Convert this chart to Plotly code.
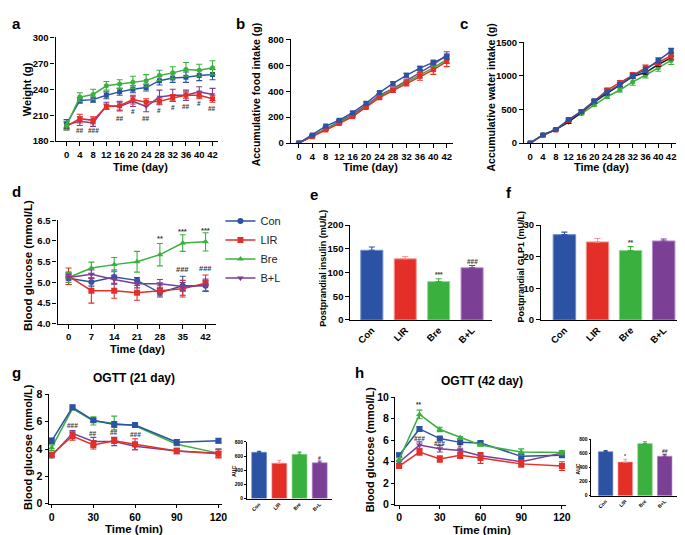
import plotly.graph_objects as go

W, H = 685, 535
FONT = "Liberation Sans, Arial, sans-serif"
BLUE, RED, GREEN, PURPLE, BLACK = "#2C52A3", "#E42F28", "#3AB03E", "#7C3F96", "#222222"
BAR_LINE = ["#6F8CD0", "#F49A95", "#8FDB8F", "#B58BCB"]

groups = ["Con", "LIR", "Bre", "B+L"]

# ---------- a: body weight ----------
days_a = [0, 4, 8, 12, 16, 20, 24, 28, 32, 36, 40, 42]
wt_con = [200, 227, 228, 233, 237, 240, 242, 250, 253, 254, 256, 257]
wt_lir = [197, 206, 204, 220, 221, 228, 225, 226, 230, 233, 233, 229]
wt_bre = [198, 231, 234, 244, 246, 248, 250, 256, 259, 263, 262, 265]
wt_bl = [199, 203, 201, 221, 220, 226, 220, 231, 233, 233, 237, 234]
wt_con_e = [5, 3, 3, 4, 4, 4, 4, 5, 5, 6, 6, 6]
wt_lir_e = [4, 5, 4, 3, 5, 5, 4, 4, 4, 4, 4, 4]
wt_bre_e = [5, 5, 6, 5, 5, 7, 7, 6, 7, 8, 7, 8]
wt_bl_e = [4, 5, 4, 4, 5, 6, 6, 8, 7, 6, 6, 7]
sig_a_x = [4, 8, 16, 20, 24, 28, 32, 36, 40, 42]
sig_a_y = [192, 192, 206, 214, 206, 215, 219, 220, 224, 218]
sig_a_t = ["##", "###", "##", "#", "##", "#", "#", "##", "#", "##"]

# ---------- b: accumulative food intake ----------
food_con = [0, 63, 131, 176, 234, 307, 390, 460, 523, 578, 624, 667]
food_lir = [0, 48, 100, 150, 205, 275, 350, 405, 460, 515, 565, 630]
food_bre = [0, 52, 105, 158, 212, 282, 360, 415, 470, 525, 580, 645]
food_bl = [0, 55, 112, 165, 220, 290, 370, 420, 480, 545, 605, 680]
food_con_e = [0, 4, 6, 7, 8, 10, 10, 12, 15, 15, 15, 20]
food_lir_e = [0, 4, 5, 6, 8, 10, 12, 15, 20, 30, 35, 40]
food_bre_e = [0, 3, 5, 6, 7, 10, 10, 12, 15, 20, 25, 30]
food_bl_e = [0, 3, 5, 6, 8, 10, 12, 15, 15, 20, 20, 25]

# ---------- c: accumulative water intake ----------
water_con = [0, 120, 200, 350, 470, 630, 760, 870, 1000, 1090, 1230, 1370]
water_lir = [0, 115, 195, 340, 470, 620, 790, 900, 1020, 1120, 1200, 1300]
water_bre = [0, 125, 200, 330, 440, 570, 690, 790, 910, 1010, 1120, 1230]
water_bl = [0, 120, 200, 310, 460, 610, 740, 860, 990, 1050, 1170, 1270]
water_con_e = [0, 10, 10, 20, 20, 20, 30, 30, 30, 40, 40, 40]
water_lir_e = [0, 10, 10, 20, 20, 20, 25, 30, 30, 40, 40, 50]
water_bre_e = [0, 10, 10, 15, 20, 20, 25, 30, 50, 40, 50, 60]
water_bl_e = [0, 10, 10, 20, 20, 20, 20, 20, 20, 25, 30, 30]

# ---------- d: blood glucose ----------
days_d = [0, 7, 14, 21, 28, 35, 42]
bg_con = [5.10, 5.01, 5.13, 5.05, 4.75, 4.92, 4.92]
bg_lir = [5.15, 4.80, 4.80, 4.75, 4.80, 4.85, 4.98]
bg_bre = [5.12, 5.35, 5.43, 5.50, 5.67, 5.95, 5.98]
bg_bl = [5.12, 5.20, 5.07, 4.97, 4.97, 4.90, 4.93]
bg_con_e = [0.15, 0.10, 0.17, 0.07, 0.10, 0.23, 0.12]
bg_lir_e = [0.20, 0.30, 0.18, 0.18, 0.12, 0.20, 0.20]
bg_bre_e = [0.12, 0.14, 0.17, 0.25, 0.27, 0.20, 0.22]
bg_bl_e = [0.08, 0.10, 0.10, 0.10, 0.10, 0.10, 0.15]
sig_d_x = [28, 35, 42, 35, 42]
sig_d_y = [6.05, 6.22, 6.25, 5.31, 5.34]
sig_d_t = ["**", "***", "***", "###", "###"]

# ---------- e, f: postprandial insulin / GLP1 ----------
insulin = [147, 129, 81, 110]
insulin_e = [7, 5, 6, 5]
sig_e_t = ["", "", "***", "###"]
glp1 = [27.0, 24.7, 22.0, 25.0]
glp1_e = [0.8, 1.1, 1.2, 0.6]
sig_f_t = ["", "", "**", ""]

# ---------- g, h: OGTT ----------
t_min = [0, 15, 30, 45, 60, 90, 120]
g_con = [4.60, 7.05, 6.10, 5.80, 5.75, 4.50, 4.60]
g_lir = [3.60, 4.95, 4.30, 4.60, 4.35, 3.85, 3.65]
g_bre = [4.10, 6.95, 6.05, 5.90, 5.70, 4.35, 3.70]
g_bl = [3.50, 5.15, 4.55, 4.55, 4.20, 3.85, 3.70]
g_con_e = [0.20, 0.15, 0.10, 0.20, 0.10, 0.20, 0.15]
g_lir_e = [0.15, 0.30, 0.30, 0.20, 0.40, 0.20, 0.30]
g_bre_e = [0.20, 0.10, 0.30, 0.50, 0.10, 0.10, 0.30]
g_bl_e = [0.15, 0.20, 0.30, 0.30, 0.25, 0.20, 0.30]
sig_g_x = [15, 30, 45, 60]
sig_g_y = [5.75, 5.15, 5.2, 5.05]
sig_g_t = ["###", "##", "##", "###"]
auc_g = [653, 500, 625, 505]
auc_g_e = [15, 40, 30, 25]
sig_gi_t = ["", "", "", "#"]

h_con = [4.60, 7.05, 6.15, 5.80, 5.75, 4.50, 4.60]
h_lir = [3.60, 4.90, 4.25, 4.60, 4.35, 3.80, 3.60]
h_bre = [4.20, 8.40, 7.00, 6.25, 5.55, 4.90, 4.85]
h_bl = [3.95, 5.55, 5.20, 5.05, 4.55, 4.00, 4.80]
h_con_e = [0.20, 0.20, 0.10, 0.10, 0.15, 0.20, 0.15]
h_lir_e = [0.15, 0.30, 0.30, 0.30, 0.50, 0.30, 0.40]
h_bre_e = [0.20, 0.40, 0.20, 0.10, 0.10, 0.30, 0.20]
h_bl_e = [0.15, 0.30, 0.30, 0.20, 0.20, 0.20, 0.20]
sig_h_x = [15, 15, 30, 45]
sig_h_y = [9.3, 6.2, 5.7, 5.5]
sig_h_t = ["**", "###", "###", "#"]
auc_h = [624, 476, 740, 560]
auc_h_e = [15, 40, 25, 25]
sig_hi_t = ["", "*", "", "##"]

fig = go.Figure()
layout = {}

# days in a-c are drawn at equally spaced positions (one slot per measurement)
idx_a = list(range(len(days_a)))


def lin_range(p0, p1, va, pa, vb, pb):
    s = (pb - pa) / (vb - va)
    return [va + (p0 - pa) / s, va + (p1 - pa) / s]


def make_axes(n, xpix, ypix, xmap, yrange, xtickvals, ytickvals, tickfs=9.5,
              xticktext=None, xtickangle=0, xticks="outside", ticklen=4, lw=1.3):
    sx = "" if n == 1 else str(n)
    xr = lin_range(xpix[0], xpix[1], *xmap)
    xa = dict(domain=[xpix[0] / W, xpix[1] / W], range=xr, anchor="y" + sx,
              showgrid=False, zeroline=False, showline=True, linecolor="black", linewidth=lw,
              ticks=xticks, ticklen=ticklen, tickwidth=lw, tickcolor="black",
              tickvals=xtickvals, tickangle=xtickangle,
              tickfont=dict(family=FONT, size=tickfs, color="black", weight="bold"))
    if xticktext is not None:
        xa["ticktext"] = xticktext
    ya = dict(domain=[1 - ypix[1] / H, 1 - ypix[0] / H], range=yrange, anchor="x" + sx,
              showgrid=False, zeroline=False, showline=True, linecolor="black", linewidth=lw,
              ticks="outside", ticklen=ticklen, tickwidth=lw, tickcolor="black",
              tickvals=ytickvals,
              tickfont=dict(family=FONT, size=tickfs, color="black", weight="bold"))
    layout["xaxis" + sx] = xa
    layout["yaxis" + sx] = ya
    return "x" + sx, "y" + sx


def add_line(xa, ya, x, y, e, color, symbol, size=5, name=None, legend=False, cap=3):
    fig.add_trace(go.Scatter(
        x=x, y=y, xaxis=xa, yaxis=ya, mode="lines+markers", name=name, showlegend=legend,
        line=dict(color=color, width=1.5),
        marker=dict(color=color, symbol=symbol, size=size),
        error_y=dict(type="data", array=e, color=color, thickness=1.1, width=cap)))


def add_bars(xa, ya, vals, errs, width, cap=3, lw=1):
    cols = [BLUE, RED, GREEN, PURPLE]
    fig.add_trace(go.Bar(
        x=list(range(len(vals))), y=vals, xaxis=xa, yaxis=ya, width=width, showlegend=False,
        marker=dict(color=cols, line=dict(color=BAR_LINE, width=lw))))
    for i, c in enumerate(cols):
        fig.add_trace(go.Scatter(
            x=[i], y=[vals[i]], xaxis=xa, yaxis=ya, mode="markers", showlegend=False,
            marker=dict(size=1, color="rgba(0,0,0,0)"),
            error_y=dict(type="data", symmetric=False, array=[errs[i]], arrayminus=[0],
                         color=BAR_LINE[i] if i == 1 else c, thickness=1.1, width=cap)))


annotations = []


def txt(text, x, y, size, xref="paper", yref="paper", angle=0, bold=True, xanchor="center",
        yanchor="middle", color="black"):
    if xref == "paper":
        x = x / W
    if yref == "paper":
        y = 1 - y / H
    annotations.append(dict(text=text, x=x, y=y, xref=xref, yref=yref, showarrow=False,
                            textangle=angle, xanchor=xanchor, yanchor=yanchor,
                            font=dict(family=FONT, size=size, color=color,
                                      weight="bold" if bold else "normal")))


# ---- panel a ----
xa, ya = make_axes(1, (48, 212), (24, 130), (0, 59, 11, 206), [180, 300], idx_a, [180, 210, 240, 270, 300],
                   xticktext=[str(d) for d in days_a])
add_line(xa, ya, idx_a, wt_bl, wt_bl_e, PURPLE, "triangle-down", 5)
add_line(xa, ya, idx_a, wt_lir, wt_lir_e, RED, "square", 5)
add_line(xa, ya, idx_a, wt_con, wt_con_e, BLUE, "square", 5)
add_line(xa, ya, idx_a, wt_bre, wt_bre_e, GREEN, "circle", 5)
for sx_, sy_, st_ in zip(sig_a_x, sig_a_y, sig_a_t):
    txt(st_, days_a.index(sx_), sy_, 6.5, xref=xa, yref=ya, color="#333333")
txt("Weight (g)", 19, 77, 11, angle=-90)
txt("Time (day)", 133, 157, 11)
txt("a", 2, 10, 15, xanchor="left")

# ---- panel b ----
xa, ya = make_axes(2, (285, 448), (26, 132), (0, 293, 11, 442), [0, 800], idx_a, [0, 200, 400, 600, 800],
                   xticktext=[str(d) for d in days_a])
add_line(xa, ya, idx_a, food_bl, food_bl_e, PURPLE, "triangle-down", 5)
add_line(xa, ya, idx_a, food_bre, food_bre_e, GREEN, "circle", 5)
add_line(xa, ya, idx_a, food_lir, food_lir_e, RED, "square", 5)
add_line(xa, ya, idx_a, food_con, food_con_e, BLUE, "square", 5)
txt("Accumulative food intake (g)", 250, 82, 10.5, angle=-90)
txt("Time (day)", 365, 157, 11)
txt("b", 228, 10, 15, xanchor="left")

# ---- panel c ----
xa, ya = make_axes(3, (520, 673), (29, 132), (0, 526, 11, 668), [0, 1500], idx_a, [0, 500, 1000, 1500],
                   xticktext=[str(d) for d in days_a])
add_line(xa, ya, idx_a, water_bre, water_bre_e, GREEN, "circle", 5)
add_line(xa, ya, idx_a, water_bl, water_bl_e, BLACK, "triangle-down", 5)
add_line(xa, ya, idx_a, water_lir, water_lir_e, RED, "square", 5)
add_line(xa, ya, idx_a, water_con, water_con_e, BLUE, "square", 5)
txt("Accumulative water intake (g)", 487, 85, 10.5, angle=-90)
txt("Time (day)", 598, 157, 11)
txt("c", 453, 10, 15, xanchor="left")

# ---- panel d ----
xa, ya = make_axes(4, (50, 210), (211, 317), (0, 61, 42, 199), [4.0, 6.5], days_d, [4.0, 4.5, 5.0, 5.5, 6.0, 6.5])
layout["yaxis4"]["tickformat"] = ".1f"
add_line(xa, ya, days_d, bg_con, bg_con_e, BLUE, "circle", 6, "Con", True)
add_line(xa, ya, days_d, bg_lir, bg_lir_e, RED, "square", 6, "LIR", True)
add_line(xa, ya, days_d, bg_bre, bg_bre_e, GREEN, "triangle-up", 6, "Bre", True)
add_line(xa, ya, days_d, bg_bl, bg_bl_e, PURPLE, "triangle-down", 6, "B+L", True)
for sx_, sy_, st_ in zip(sig_d_x, sig_d_y, sig_d_t):
    txt(st_, sx_, sy_, 7.5, xref=xa, yref=ya, color="#333333")
txt("Blood glucose (mmol/L)", 20, 257, 11.5, angle=-90)
txt("Time (day)", 130, 343, 11)
txt("d", 2, 182, 15, xanchor="left")

# ---- panel e ----
xa, ya = make_axes(5, (345, 488), (216, 313), (0, 366.5, 3, 467.5), [0, 200], [0, 1, 2, 3], [0, 50, 100, 150, 200],
                   xticktext=groups, xtickangle=-45, xticks="")
add_bars(xa, ya, insulin, insulin_e, 0.66)
for i, t in enumerate(sig_e_t):
    if t:
        txt(t, i, insulin[i] + insulin_e[i] + 8, 6.5, xref=xa, yref=ya, color="#333333")
txt("Postprandial insulin (mU/L)", 317, 260, 9, angle=-90)
txt("e", 302, 185, 15, xanchor="left")

# ---- panel f ----
xa, ya = make_axes(6, (537, 683), (216, 313), (0, 560.5, 3, 660.5), [0, 30], [0, 1, 2, 3], [0, 10, 20, 30],
                   xticktext=groups, xtickangle=-45, xticks="")
add_bars(xa, ya, glp1, glp1_e, 0.68)
for i, t in enumerate(sig_f_t):
    if t:
        txt(t, i, glp1[i] + glp1_e[i] + 1.3, 6.5, xref=xa, yref=ya, color="#333333")
txt("Postprandial GLP1 (mU/L)", 517, 258, 9, angle=-90)
txt("f", 500, 183, 15, xanchor="left")

# ---- panel g ----
xa, ya = make_axes(7, (41, 216), (389, 501), (0, 44, 120, 212), [0, 8], [0, 30, 60, 90, 120], [0, 2, 4, 6, 8],
                   tickfs=10.5, ticklen=3)
add_line(xa, ya, t_min, g_bre, g_bre_e, GREEN, "triangle-up", 6)
add_line(xa, ya, t_min, g_con, g_con_e, BLUE, "square", 6)
add_line(xa, ya, t_min, g_bl, g_bl_e, PURPLE, "triangle-down", 6)
add_line(xa, ya, t_min, g_lir, g_lir_e, RED, "square", 6)
for sx_, sy_, st_ in zip(sig_g_x, sig_g_y, sig_g_t):
    txt(st_, sx_, sy_, 6.5, xref=xa, yref=ya, color="#333333")
txt("Blood glucose (mmol/L)", 20, 443, 11, angle=-90)
txt("Time (min)", 127, 527, 11.5)
txt("OGTT (21 day)", 127, 372, 12)
txt("g", 2, 367, 15, xanchor="left")

xa, ya = make_axes(8, (240.7, 326.7), (437.7, 495.7), (0, 253, 3, 314), [0, 800], [0, 1, 2, 3], [0, 200, 400, 600, 800],
                   tickfs=5, xticktext=groups, xtickangle=-45, xticks="", ticklen=2, lw=0.8)
add_bars(xa, ya, auc_g, auc_g_e, 0.74, cap=2, lw=0.6)
for i, t in enumerate(sig_gi_t):
    if t:
        txt(t, i, auc_g[i] + auc_g_e[i] + 45, 5, xref=xa, yref=ya, color="#333333")
txt("AUC", 227, 468, 5, angle=-90)

# ---- panel h ----
xa, ya = make_axes(9, (390, 562), (392, 502), (0, 394, 120, 558), [0, 10], [0, 30, 60, 90, 120], [0, 2, 4, 6, 8, 10],
                   tickfs=10.5, ticklen=3)
add_line(xa, ya, t_min, h_con, h_con_e, BLUE, "square", 6)
add_line(xa, ya, t_min, h_bl, h_bl_e, PURPLE, "triangle-down", 6)
add_line(xa, ya, t_min, h_lir, h_lir_e, RED, "square", 6)
add_line(xa, ya, t_min, h_bre, h_bre_e, GREEN, "triangle-up", 6)
for sx_, sy_, st_ in zip(sig_h_x, sig_h_y, sig_h_t):
    txt(st_, sx_, sy_, 6.5, xref=xa, yref=ya, color="#333333")
txt("Blood glucose (mmol/L)", 365, 445, 11, angle=-90)
txt("Time (min)", 477, 528, 11.5)
txt("OGTT (42 day)", 477, 375, 12)
txt("h", 348, 367, 15, xanchor="left")

xa, ya = make_axes(10, (587.7, 675), (435, 492.7), (0, 602, 3, 661.5), [0, 800], [0, 1, 2, 3], [0, 200, 400, 600, 800],
                   tickfs=5, xticktext=groups, xtickangle=-45, xticks="", ticklen=2, lw=0.8)
add_bars(xa, ya, auc_h, auc_h_e, 0.74, cap=2, lw=0.6)
for i, t in enumerate(sig_hi_t):
    if t:
        txt(t, i, auc_h[i] + auc_h_e[i] + 45, 5, xref=xa, yref=ya, color="#333333")
txt("AUC", 574, 465, 5, angle=-90)

layout.update(dict(
    width=W, height=H, autosize=False,
    margin=dict(l=0, r=0, t=0, b=0),
    paper_bgcolor="white", plot_bgcolor="white",
    annotations=annotations,
    showlegend=True,
    legend=dict(x=214 / W, y=1 - 197 / H, xanchor="left", yanchor="top",
                font=dict(family=FONT, size=11, color="#222222"),
                bgcolor="rgba(0,0,0,0)", itemwidth=30, tracegroupgap=0),
    font=dict(family=FONT),
))
fig.update_layout(**layout)
fig.write_html("out.html")
